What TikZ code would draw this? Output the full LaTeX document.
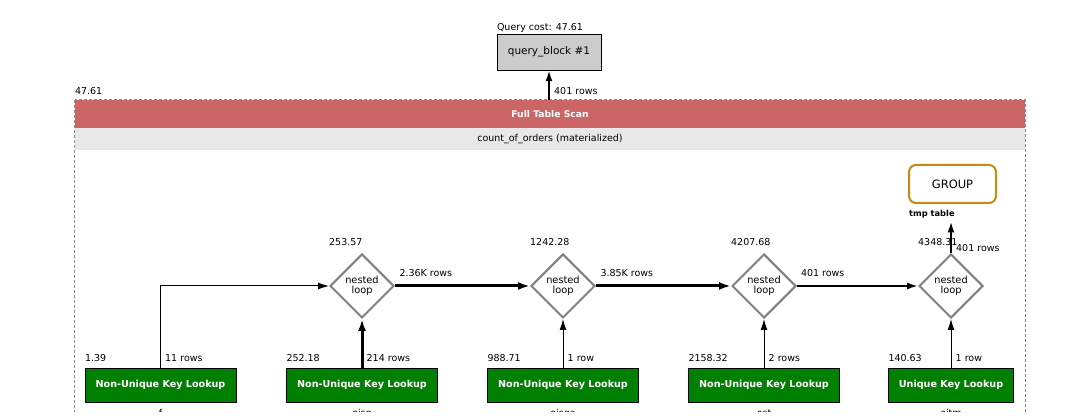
\documentclass[tikz,border=0pt]{standalone}
\usepackage{fontspec}
\setsansfont{DejaVu Sans}
\usepackage{tikz}
\usetikzlibrary{arrows.meta,shapes.geometric,positioning,calc}
\definecolor{scanred}{RGB}{204,102,102}
\definecolor{matgray}{RGB}{232,232,232}
\definecolor{blockgray}{RGB}{204,204,204}
\definecolor{lookupgreen}{RGB}{0,128,0}
\definecolor{loopgray}{RGB}{128,128,128}
\definecolor{groupgold}{RGB}{196,138,18}
\definecolor{framegray}{RGB}{140,140,140}

\begin{document}
\begin{tikzpicture}[x=1pt, y=1pt, font=\sffamily\fontsize{9.5}{11}\selectfont,
      qblock/.style={draw, fill=blockgray, minimum width=104pt, minimum height=36pt,
                     inner sep=0pt, font=\sffamily\fontsize{10.5}{12}\selectfont},
      scanbar/.style={fill=scanred, text=white, minimum width=950pt, minimum height=28pt,
                      inner sep=0pt, font=\sffamily\bfseries\fontsize{9.2}{10}\selectfont},
      matbar/.style={fill=matgray, minimum width=950pt, minimum height=22pt, inner sep=0pt},
      frame/.style={draw=framegray, line width=0.8pt, dash pattern=on 3pt off 2pt},
      grp/.style={draw=groupgold, line width=2pt, rounded corners=7pt, minimum width=87pt,
                  minimum height=38pt, inner sep=0pt, font=\sffamily\fontsize{11.5}{13}\selectfont},
      lookup/.style={draw, fill=lookupgreen, text=white, minimum width=151pt,
                     minimum height=34pt, inner sep=0pt,
                     font=\sffamily\bfseries\fontsize{9.6}{11}\selectfont},
      nestloop/.style={diamond, draw=loopgray, line width=2pt, minimum width=64pt,
                       minimum height=64pt, inner sep=0pt, align=center,
                       font=\sffamily\fontsize{9.8}{10.3}\selectfont},
      lbl/.style={inner sep=0pt, anchor=base west},
      arr/.style={-{Latex[length=11pt,width=7pt]}, line width=1pt},
      midarr/.style={-{Latex[length=11pt,width=7pt]}, line width=2pt},
      fatarr/.style={-{Latex[length=12pt,width=8pt]}, line width=3pt}
    ]
    \useasboundingbox (0,0) rectangle (1072,417);
    \clip (0,5) rectangle (1072,417);

    % query block on top
    \node[qblock] (qb) at (549,365) {query\_block \#1};
    \node[lbl] (qcost) at ($(qb.north west)+(0,3.5)$) {Query cost: 47.61};

    % materialized derived table
    \node[scanbar] (scan) at (550,303) {Full Table Scan};
    \node[matbar, below=0pt of scan] (mat) {count\_of\_orders (materialized)};
    \draw[frame] (scan.north west) rectangle ($(mat.south east)+(0,-320)$);
    \node[lbl] (scancost) at ($(scan.north west)+(0,5.5)$) {47.61};
    \draw[midarr] (qb.south |- scan.north) -- (qb.south);
    \node[lbl] (scanrows) at ($(qb.south |- scan.north)+(5,5.5)$) {401 rows};

    % grouping
    \node[grp] (grp) at (952.5,233) {GROUP};
    \node[lbl, font=\sffamily\bfseries\fontsize{8.3}{10}\selectfont] (tmp)
          at ($(grp.south west)+(1,-12.5)$) {tmp table};

    % nested loops
    \node[nestloop] (nl1) at (362,131) {nested\\loop};
    \node[nestloop] (nl2) at (563,131) {nested\\loop};
    \node[nestloop] (nl3) at (764,131) {nested\\loop};
    \node[nestloop] (nl4) at (951,131) {nested\\loop};
    \node[lbl] (c1) at ($(nl1.west |- nl1.north)+(0,7.5)$) {253.57};
    \node[lbl] (c2) at ($(nl2.west |- nl2.north)+(0,7.5)$) {1242.28};
    \node[lbl] (c3) at ($(nl3.west |- nl3.north)+(0,7.5)$) {4207.68};
    \node[lbl] (c4) at ($(nl4.west |- nl4.north)+(0,7.5)$) {4348.31};

    \draw[fatarr] (nl1) -- (nl2)
      node[lbl, pos=0, xshift=3pt, yshift=9.5pt] {2.36K rows};
    \draw[fatarr] (nl2) -- (nl3)
      node[lbl, pos=0, xshift=3pt, yshift=9.5pt] {3.85K rows};
    \draw[midarr] (nl3) -- (nl4)
      node[lbl, pos=0, xshift=3pt, yshift=9.5pt] {401 rows};
    \draw[midarr] (nl4.north) -- ($(tmp.south -| nl4.north)+(0,-3)$);
    \node[lbl] (r4) at ($(nl4.north)+(5,1.5)$) {401 rows};

    % table accesses
    \node[lookup] (f) at (160.5,32) {Non-Unique Key Lookup};
    \node[lookup] (oisg) at (nl1 |- f) {Non-Unique Key Lookup};
    \node[lookup] (oisga) at (nl2 |- f) {Non-Unique Key Lookup};
    \node[lookup] (ost) at (nl3 |- f) {Non-Unique Key Lookup};
    \node[lookup, minimum width=125pt] (oitm) at (nl4 |- f) {Unique Key Lookup};

    \node[lbl] (cf) at ($(f.north west)+(0,6)$) {1.39};
    \node[lbl] (coisg) at ($(oisg.north west)+(0,6)$) {252.18};
    \node[lbl] (coisga) at ($(oisga.north west)+(0,6)$) {988.71};
    \node[lbl] (cost) at ($(ost.north west)+(0,6)$) {2158.32};
    \node[lbl] (coitm) at ($(oitm.north west)+(0,6)$) {140.63};

    \node[lbl] (rf) at ($(f.north)+(4.5,6)$) {11 rows};
    \node[lbl] (roisg) at ($(oisg.north)+(4.5,6)$) {214 rows};
    \node[lbl] (roisga) at ($(oisga.north)+(4.5,6)$) {1 row};
    \node[lbl] (rost) at ($(ost.north)+(4.5,6)$) {2 rows};
    \node[lbl] (roitm) at ($(oitm.north)+(4.5,6)$) {1 row};

    \node[anchor=base, inner sep=0pt] (nf) at ($(f.south)+(0,-14)$) {f};
    \node[anchor=base, inner sep=0pt] (noisg) at ($(oisg.south)+(0,-14)$) {oisg};
    \node[anchor=base, inner sep=0pt] (noisga) at ($(oisga.south)+(0,-14)$) {oisga};
    \node[anchor=base, inner sep=0pt] (nost) at ($(ost.south)+(0,-14)$) {ost};
    \node[anchor=base, inner sep=0pt] (noitm) at ($(oitm.south)+(0,-14)$) {oitm};

    \draw[arr] (f.north) |- (nl1.west);
    \draw[fatarr] (oisg) -- (nl1);
    \draw[arr] (oisga) -- (nl2);
    \draw[arr] (ost) -- (nl3);
    \draw[arr] (oitm) -- (nl4);
  \end{tikzpicture}
\end{document}
